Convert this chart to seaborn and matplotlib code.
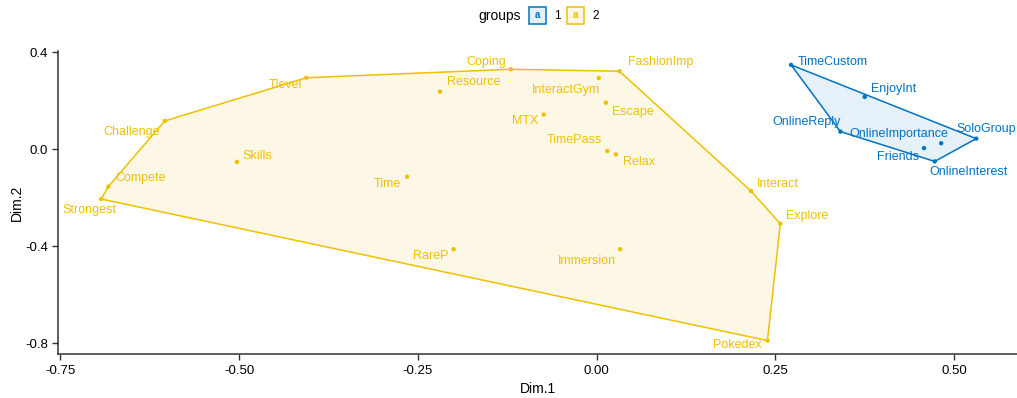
import matplotlib
matplotlib.use("Agg")
import matplotlib.pyplot as plt
from matplotlib.patches import Rectangle
import matplotlib.colors as mcolors
import seaborn as sns
import pandas as pd
import numpy as np

# ---- data ----
names = ["Strongest", "Compete", "Challenge", "Skills", "Tlevel", "Coping", "FashionImp",
         "Resource", "InteractGym", "Escape", "MTX", "TimePass", "Relax", "Time", "RareP",
         "Immersion", "Pokedex", "Explore", "Interact",
         "TimeCustom", "EnjoyInt", "OnlineReply", "OnlineImportance", "Friends",
         "SoloGroup", "OnlineInterest"]
dim1 = [-0.693, -0.683, -0.604, -0.503, -0.406, -0.120, 0.032,
        -0.219, 0.003, 0.013, -0.074, 0.015, 0.027, -0.265, -0.200,
        0.033, 0.239, 0.257, 0.216,
        0.272, 0.375, 0.341, 0.482, 0.458, 0.531, 0.473]
dim2 = [-0.205, -0.154, 0.117, -0.052, 0.295, 0.330, 0.322,
        0.238, 0.294, 0.192, 0.143, -0.007, -0.021, -0.113, -0.412,
        -0.412, -0.789, -0.307, -0.172,
        0.348, 0.216, 0.073, 0.025, 0.005, 0.044, -0.050]
groups = ["2"] * 19 + ["1"] * 7

# label offsets in pixels (dx right, dy down) - layout only
label_offsets = {
    "Strongest": (-12, 11), "Compete": (32, -9), "Challenge": (-33, 11), "Skills": (20, -6),
    "Tlevel": (-21, 7), "Coping": (-25, -7), "FashionImp": (41, -9), "Resource": (34, -10),
    "InteractGym": (-33, 12), "Escape": (27, 9), "MTX": (-19, 6), "TimePass": (-33, -11),
    "Relax": (23, 8), "Time": (-19.5, 7), "RareP": (-23, 7), "Immersion": (-33, 12),
    "Pokedex": (-30, 4), "Explore": (27, -8), "Interact": (27, -7),
    "TimeCustom": (41.5, -3), "EnjoyInt": (28.5, -8), "OnlineReply": (-34, -10),
    "OnlineImportance": (-42, -9), "Friends": (-26.5, 9), "SoloGroup": (10, -10),
    "OnlineInterest": (34, 11),
}

palette = {"1": "#0073C2", "2": "#EFC000"}

df = pd.DataFrame({"name": names, "Dim.1": dim1, "Dim.2": dim2, "groups": groups})


def convex_hull(pts):
    pts = sorted(set(pts))
    if len(pts) <= 2:
        return pts

    def cross(o, a, b):
        return (a[0] - o[0]) * (b[1] - o[1]) - (a[1] - o[1]) * (b[0] - o[0])

    lower = []
    for p in pts:
        while len(lower) >= 2 and cross(lower[-2], lower[-1], p) <= 0:
            lower.pop()
        lower.append(p)
    upper = []
    for p in reversed(pts):
        while len(upper) >= 2 and cross(upper[-2], upper[-1], p) <= 0:
            upper.pop()
        upper.append(p)
    return lower[:-1] + upper[:-1]


sns.set_theme(style="ticks")
plt.rcParams["font.family"] = ["Liberation Sans", "DejaVu Sans"]

fig = plt.figure(figsize=(10.17, 3.98), dpi=100)
ax = fig.add_axes([58.3 / 1017, 1 - 354.3 / 398, 1 - 58.3 / 1017, (354.3 - 51) / 398])

for g in ["2", "1"]:
    sub = df[df["groups"] == g]
    hull = convex_hull(list(zip(sub["Dim.1"], sub["Dim.2"])))
    hx = [p[0] for p in hull] + [hull[0][0]]
    hy = [p[1] for p in hull] + [hull[0][1]]
    ax.fill(hx, hy, color=palette[g], alpha=0.1, lw=0, zorder=1)
    ax.plot(hx, hy, color=palette[g], lw=1.1, zorder=2)

sns.scatterplot(data=df, x="Dim.1", y="Dim.2", hue="groups", palette=palette,
                s=10, linewidth=0, ax=ax, legend=False, zorder=3)

for n, x, y, g in zip(names, dim1, dim2, groups):
    dx, dy = label_offsets[n]
    ax.annotate(n, xy=(x, y), xytext=(dx, -dy), textcoords="offset pixels",
                ha="center", va="center", fontsize=9, color=palette[g], zorder=4)

ax.set_xlim(-0.7529, 0.588)
ax.set_ylim(-0.8454, 0.4054)
ax.set_xticks([-0.75, -0.50, -0.25, 0.00, 0.25, 0.50])
ax.set_xticklabels(["-0.75", "-0.50", "-0.25", "0.00", "0.25", "0.50"])
ax.set_yticks([-0.8, -0.4, 0.0, 0.4])
ax.set_yticklabels(["-0.8", "-0.4", "0.0", "0.4"])
ax.set_xlabel("Dim.1", fontsize=10, color="black", labelpad=4)
ax.set_ylabel("Dim.2", fontsize=10, color="black", labelpad=1)
ax.tick_params(axis="both", labelsize=9.5, colors="#333333", labelcolor="black",
               length=4, width=1)
for s in ["top", "right"]:
    ax.spines[s].set_visible(False)
for s in ["left", "bottom"]:
    ax.spines[s].set_color("#333333")
    ax.spines[s].set_linewidth(1.1)

# legend at top
fig.text(500 / 1017, 1 - 16 / 398, "groups", ha="center", va="center", fontsize=10, color="black")
for g, x0, tx in [("1", 529, 557), ("2", 567, 596)]:
    r = Rectangle((x0 / 1017, 1 - 24 / 398), 17 / 1017, 17 / 398, transform=fig.transFigure,
                  facecolor=mcolors.to_rgba(palette[g], 0.1), edgecolor=palette[g],
                  linewidth=1.1, zorder=1)
    fig.add_artist(r)
    fig.text((x0 + 8.5) / 1017, 1 - 15.5 / 398, "a", ha="center", va="center",
             fontsize=7, fontweight="bold", color=palette[g], zorder=2)
    fig.text(tx / 1017, 1 - 16 / 398, g, ha="center", va="center", fontsize=8.5, color="black")

fig.savefig("out.png", dpi=100)
